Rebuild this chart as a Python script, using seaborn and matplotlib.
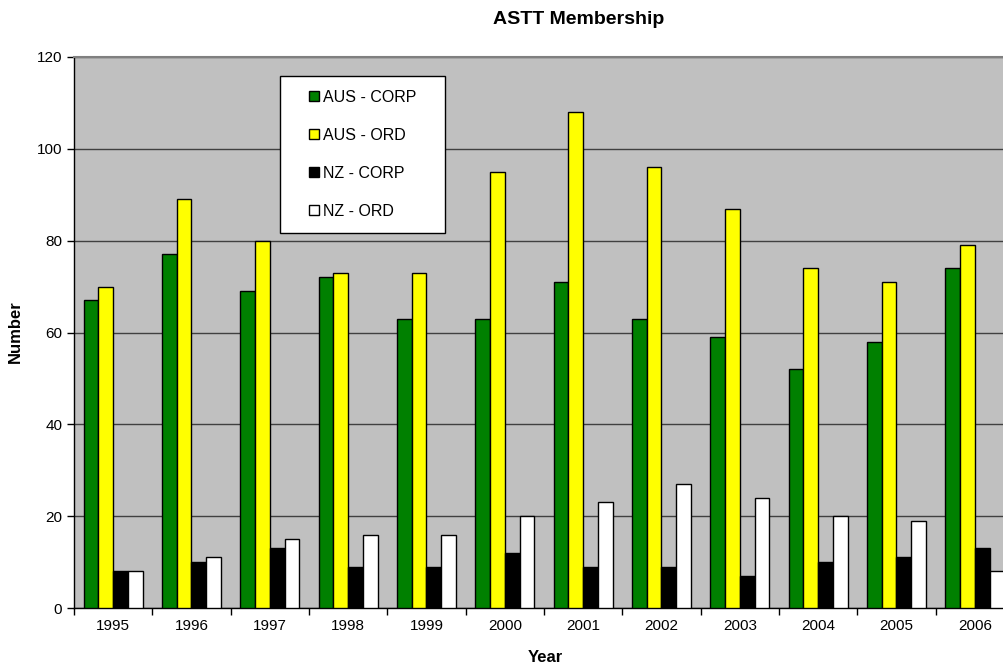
import pandas as pd
import matplotlib.pyplot as plt
import matplotlib.patches as mpatches
from matplotlib.legend_handler import HandlerPatch
import seaborn as sns

# dados
anos = ['1995', '1996', '1997', '1998', '1999', '2000',
        '2001', '2002', '2003', '2004', '2005', '2006']
series = ['AUS - CORP', 'AUS - ORD', 'NZ - CORP', 'NZ - ORD']
aus_corp = [67, 77, 69, 72, 63, 63, 71, 63, 59, 52, 58, 74]
aus_ord = [70, 89, 80, 73, 73, 95, 108, 96, 87, 74, 71, 79]
nz_corp = [8, 10, 13, 9, 9, 12, 9, 9, 7, 10, 11, 13]
nz_ord = [8, 11, 15, 16, 16, 20, 23, 27, 24, 20, 19, 8]
cores = ['#008000', '#FFFF00', '#000000', '#FFFFFF']

df = pd.DataFrame({
    'Year': anos * 4,
    'Serie': [s for s in series for _ in anos],
    'Number': aus_corp + aus_ord + nz_corp + nz_ord,
})

sns.set_style("white")
plt.rcParams['font.family'] = ['Liberation Sans', 'DejaVu Sans']
plt.rcParams.update({'text.color': 'black', 'axes.labelcolor': 'black',
                     'xtick.color': 'black', 'ytick.color': 'black'})

fig = plt.figure(figsize=(10.04, 6.66), dpi=100)
# area do grafico passa da borda direita, como no original
ax = fig.add_axes([74 / 1004, 1 - 608 / 666, 940 / 1004, 551 / 666])
ax.set_facecolor('#C0C0C0')

sns.barplot(data=df, x='Year', y='Number', hue='Serie', palette=cores,
            width=0.75, gap=0, edgecolor='black', linewidth=1,
            saturation=1, ax=ax, zorder=3, legend=False)

ax.set_ylim(0, 120)
ax.set_xlim(-0.5, 11.5)
ax.set_yticks(range(0, 121, 20))
ax.yaxis.grid(True, color='#404040', linewidth=1, zorder=0)
ax.set_axisbelow(True)

ax.set_xticks([i - 0.5 for i in range(13)], minor=True)
ax.tick_params(axis='x', which='major', length=0, labelsize=11, pad=8)
ax.tick_params(axis='x', which='minor', length=5, width=1, direction='out', bottom=True)
ax.tick_params(axis='y', length=5, width=1, direction='out', left=True, labelsize=11)

for lado in ['left', 'bottom']:
    ax.spines[lado].set_color('black')
    ax.spines[lado].set_linewidth(1)
ax.spines['top'].set_color('#808080')
ax.spines['top'].set_linewidth(1.5)
ax.spines['right'].set_visible(False)

ax.set_xlabel('')
ax.set_ylabel('')
fig.text(579 / 1004, 1 - 19 / 666, 'ASTT Membership', ha='center', va='center',
         fontsize=14, fontweight='bold')
fig.text(15 / 1004, 1 - 332 / 666, 'Number', ha='center', va='center',
         rotation=90, fontsize=12, fontweight='bold')
fig.text(545 / 1004, 1 - 657 / 666, 'Year', ha='center', va='center',
         fontsize=12, fontweight='bold')


# quadradinho da legenda encostado a direita da area do simbolo
def quadrado(legend, orig_handle, xdescent, ydescent, width, height, fontsize):
    s = 7.2
    return mpatches.Rectangle((-xdescent + width - s, -ydescent + (height - s) / 2), s, s)


handles = [mpatches.Patch(facecolor=c, edgecolor='black', linewidth=1) for c in cores]
leg = ax.legend(handles=handles, labels=series, loc='upper left',
                bbox_to_anchor=(280 / 1004, 1 - 231 / 666, 165 / 1004, 155 / 666),
                bbox_transform=fig.transFigure, mode='expand', fontsize=11.5,
                frameon=True, fancybox=False, framealpha=1, edgecolor='black',
                handlelength=1.6, handleheight=0.7, handletextpad=0.25,
                labelspacing=1.45, borderpad=0.85, borderaxespad=0,
                handler_map={mpatches.Patch: HandlerPatch(patch_func=quadrado)})
leg.get_frame().set_linewidth(1)
leg.get_frame().set_facecolor('white')

plt.savefig('out.png', dpi=100)
